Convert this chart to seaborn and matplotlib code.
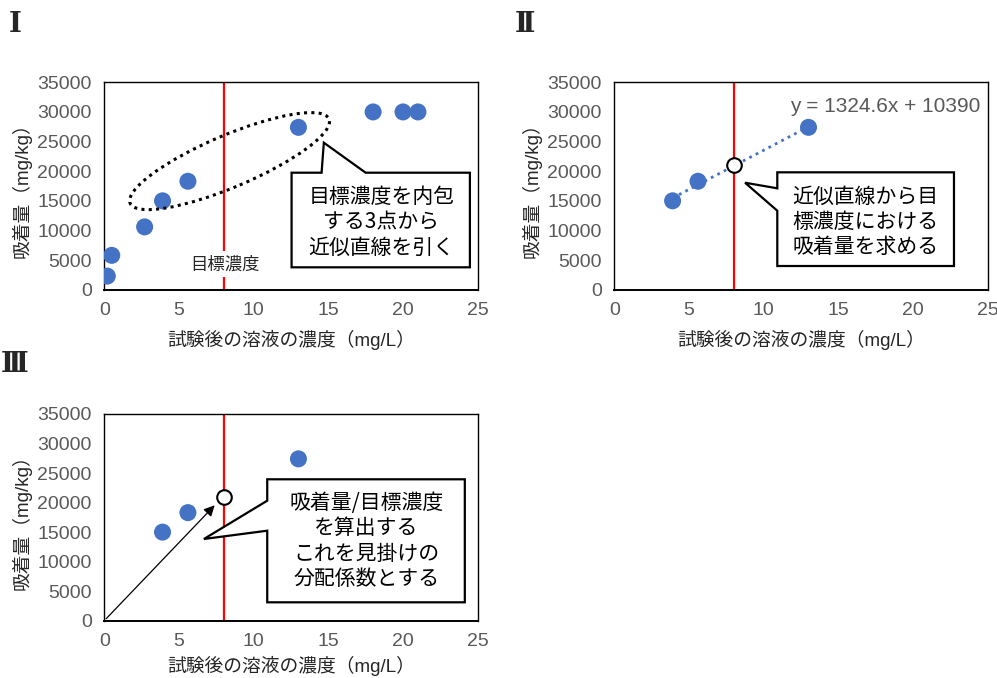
import numpy as np
import pandas as pd
import seaborn as sns
import matplotlib.pyplot as plt
from matplotlib.patches import Polygon, Ellipse
from matplotlib.transforms import ScaledTranslation

# data
conc_all = [0.2, 0.5, 2.7, 3.9, 5.6, 13.0, 18.0, 20.0, 21.0]
ads_all = [2300, 5800, 10600, 15000, 18300, 27400, 30000, 30000, 30000]
conc_fit = [3.9, 5.6, 13.0]
ads_fit = [15000, 18300, 27400]
target_conc = 8
slope = 1324.6
intercept = 10390
eq_label = "y = 1324.6x + 10390"

xticks = [0, 5, 10, 15, 20, 25]
yticks = [0, 5000, 10000, 15000, 20000, 25000, 30000, 35000]
xlabel = "試験後の溶液の濃度（mg/L）"
ylabel = "吸着量（mg/kg）"

sns.set_style("white")
plt.rcParams['font.family'] = ['Liberation Sans', 'Noto Sans CJK JP']

blue = "#4472C4"
gray = "#595959"

df_all = pd.DataFrame({"x": conc_all, "y": ads_all})
df_fit = pd.DataFrame({"x": conc_fit, "y": ads_fit})
target_ads = slope * target_conc + intercept

fig = plt.figure(figsize=(9.97, 6.78), dpi=100)
ax1 = fig.add_axes([0.1046, 0.5727, 0.3745, 0.3059])
ax2 = fig.add_axes([0.6162, 0.5727, 0.3745, 0.3059])
ax3 = fig.add_axes([0.1046, 0.0845, 0.3745, 0.3049])


def style_axes(ax, xpad=8):
    ax.set_xlim(0, 25)
    ax.set_ylim(0, 35000)
    ax.set_xticks(xticks)
    ax.set_yticks(yticks)
    ax.tick_params(direction='in', length=4, width=1, color='black', labelcolor=gray, labelsize=14)
    ax.tick_params(axis='y', pad=9)
    ax.tick_params(axis='x', pad=9)
    for s in ax.spines.values():
        s.set_visible(True)
        s.set_color('black')
        s.set_linewidth(1.0)
    ax.spines['bottom'].set_linewidth(1.4)
    ax.set_xlabel(xlabel, fontsize=13.5, color='#262626', labelpad=xpad)
    ax.set_ylabel(ylabel, fontsize=13.5, color='#262626', labelpad=4)


def callout(ax, pts, text, tx, ty):
    ax.add_patch(Polygon(pts, closed=True, facecolor='white', edgecolor='black', lw=1.6, zorder=4))
    ax.text(tx, ty, text, ha='center', va='center', fontsize=15, linespacing=1.2,
            color='black', zorder=5, family=['Noto Sans CJK JP'])


# panel I
sns.scatterplot(data=df_all, x="x", y="y", ax=ax1, color=blue, s=150, edgecolor='none', zorder=3)
ax1.text(target_conc + 0.1, 4300, "目標濃度", ha='center', va='center', fontsize=12.5,
         family=['Noto Sans CJK JP'], zorder=2,
         bbox=dict(facecolor='white', edgecolor='none', pad=3))
tr = fig.dpi_scale_trans + ScaledTranslation(8.39, 21700, ax1.transData)
ax1.add_patch(Ellipse((0, 0), 2.16, 0.52, angle=23, transform=tr, fill=False,
                      edgecolor='black', lw=2.2, linestyle=(0, (1, 1.4)), zorder=4))
callout(ax1, [(12.54, 19745), (14.55, 19745), (14.70, 24810), (17.50, 19745),
              (24.48, 19745), (24.48, 3780), (12.54, 3780)],
        "目標濃度を内包\nする3点から\n近似直線を引く", 18.55, 11400)

# panel II
sns.regplot(data=df_fit, x="x", y="y", ax=ax2, ci=None, scatter=False, truncate=True,
            line_kws=dict(color=blue, lw=2, linestyle=(0, (1, 1.6)), zorder=2))
sns.scatterplot(data=df_fit, x="x", y="y", ax=ax2, color=blue, s=150, edgecolor='none', zorder=3)
ax2.plot([target_conc], [target_ads], 'o', ms=10.5, mfc='white', mec='black', mew=1.5, zorder=4)
ax2.text(24.5, 31000, eq_label, ha='right', va='center', fontsize=15, color=gray)
callout(ax2, [(10.91, 19810), (22.74, 19810), (22.74, 4000), (10.91, 4000),
              (10.91, 13330), (8.75, 18057), (10.91, 17110)],
        "近似直線から目\n標濃度における\n吸着量を求める", 16.8, 11450)

# panel III
sns.scatterplot(data=df_fit, x="x", y="y", ax=ax3, color=blue, s=150, edgecolor='none', zorder=3)
ax3.plot([target_conc], [target_ads], 'o', ms=10.5, mfc='white', mec='black', mew=1.5, zorder=4)
ax3.annotate("", xy=(7.52, 19880), xytext=(0, 0),
             arrowprops=dict(arrowstyle='-|>', color='black', lw=0.9, mutation_scale=16), zorder=5)
callout(ax3, [(10.91, 23943), (24.14, 23943), (24.14, 3116), (10.91, 3116),
              (10.91, 15240), (6.67, 13834), (10.91, 20319)],
        "吸着量/目標濃度\nを算出する\nこれを見掛けの\n分配係数とする", 17.55, 13500)

for ax, xpad in ((ax1, 8), (ax2, 8), (ax3, 4)):
    style_axes(ax, xpad)
    ax.axvline(target_conc, color='red', lw=1.6, zorder=1)

for px, py, lab in [(15, 25, "Ⅰ"), (525, 25, "Ⅱ"), (15, 365, "Ⅲ")]:
    fig.text(px / 997, 1 - py / 678, lab, ha='center', va='center', fontsize=20,
             fontweight='bold', family=['DejaVu Serif', 'Noto Sans CJK JP'])

fig.savefig("out.png", dpi=100)
